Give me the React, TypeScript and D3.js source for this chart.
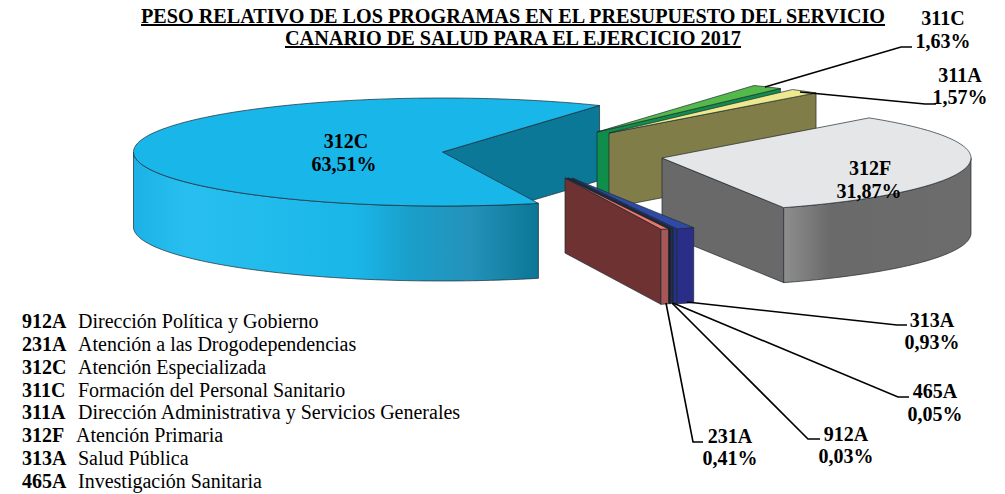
import React from "react";
import * as d3 from "d3";

const titleLines = [
  "PESO RELATIVO DE LOS PROGRAMAS EN EL PRESUPUESTO DEL SERVICIO",
  "CANARIO DE SALUD PARA EL EJERCICIO 2017",
];
const codes = ["912A", "231A", "312C", "311C", "311A", "312F", "313A", "465A"];
const names = [
  "Dirección Política y Gobierno",
  "Atención a las Drogodependencias",
  "Atención Especializada",
  "Formación del Personal Sanitario",
  "Dirección Administrativa y Servicios Generales",
  "Atención Primaria",
  "Salud Pública",
  "Investigación Sanitaria",
];
const shares = [0.03, 0.41, 63.51, 1.63, 1.57, 31.87, 0.93, 0.05];

// layout of the exploded pie
const RX = 309, RY = 54, DEPTH = 75;
const W = 1005, H = 494;
const apex: Record<string, [number, number]> = {
  "912A": [566.5, 178], "231A": [565, 178], "312C": [442.5, 152], "311C": [597, 132],
  "311A": [609, 133], "312F": [662, 158], "313A": [572, 178], "465A": [568.5, 178],
};
const topFill: Record<string, string> = {
  "912A": "#3a2a26", "231A": "#ee7468", "312C": "#19b6ea", "311C": "#53b94a",
  "311A": "#eee88f", "312F": "#e5e6e7", "313A": "#2f49a6", "465A": "#27356f",
};
const wallFill: Record<string, string> = {
  "912A": "#1a1414", "231A": "#6f3232", "312C": "#0b7898", "311C": "#0f8d4b",
  "311A": "#807d48", "312F": "#696969", "313A": "#23318c", "465A": "#2b2a55",
};
const rimStops: Record<string, [number, string][]> = {
  "912A": [[0, "#221a18"], [1, "#221a18"]],
  "231A": [[0, "#a85757"], [1, "#a85757"]],
  "312C": [[0, "#1cb2e6"], [0.13, "#28bff0"], [0.55, "#1ab6e8"], [0.68, "#1a9fcb"], [0.83, "#2492ba"], [1, "#0b7696"]],
  "311C": [[0, "#0f8d4b"], [1, "#0f8d4b"]],
  "311A": [[0, "#807d48"], [1, "#807d48"]],
  "312F": [[0, "#8e8e8e"], [0.25, "#6a6a6a"], [1, "#6c6c6c"]],
  "313A": [[0, "#2b2e88"], [1, "#2b2e88"]],
  "465A": [[0, "#27356f"], [1, "#27356f"]],
};
const paintOrder = ["312C", "311C", "311A", "312F", "313A", "465A", "912A", "231A"];

// leader lines and outside labels
const leaderCodes = ["311C", "311A", "313A", "465A", "912A", "231A"];
const leaderPaths: [number, number][][] = [
  [[765, 87], [901, 47], [912, 47]],
  [[800, 92], [925, 104], [936, 104]],
  [[687, 302], [897, 325], [907, 325]],
  [[673, 303], [898, 397], [909, 397]],
  [[672, 303], [808, 439], [820, 439]],
  [[666, 303], [693, 442], [703, 442]],
];
const leaderLabelPos: [number, number, number][] = [
  [943, 25, 48], [960, 82, 104], [932, 327, 349], [935, 398, 421], [846, 441, 463], [730, 443, 465],
];

const pct = (v: number) => v.toFixed(2).replace(".", ",") + "%";

const pieGen = d3.pie<number>().sort(null).value((d) => d)
  .startAngle((160.33 * Math.PI) / 180)
  .endAngle((160.33 * Math.PI) / 180 + 2 * Math.PI);
const arcs = pieGen(shares);

// d3.pie measures from 12 o'clock clockwise; project the circle onto the tilted plane.
const project = (a: number, c: [number, number], dz = 0): [number, number] => [
  c[0] + RX * Math.sin(a),
  c[1] - RY * Math.cos(a) + dz,
];
const line = d3.line();
const rimPts = (a0: number, a1: number, c: [number, number], dz = 0) => {
  const n = Math.max(2, Math.ceil(Math.abs(a1 - a0) / 0.02));
  return d3.range(n + 1).map((i) => project(a0 + ((a1 - a0) * i) / n, c, dz));
};

function Slice({ i }: { i: number }) {
  const code = codes[i];
  const { startAngle: a0, endAngle: a1 } = arcs[i];
  const c = apex[code];
  const down: [number, number] = [c[0], c[1] + DEPTH];
  const stroke = { stroke: "#1c2a30", strokeWidth: 0.7, strokeLinejoin: "round" as const };
  const parts: React.ReactNode[] = [];
  // end wall faces the viewer when it points to the right half of the ellipse
  if (Math.sin(a1) > 0) {
    const e = project(a1, c), ed = project(a1, c, DEPTH);
    parts.push(<path key="w1" d={line([c, e, ed, down])! + "Z"} fill={wallFill[code]} {...stroke} />);
  }
  // outer face: the portion of the rim in the front half of the ellipse
  const k0 = Math.ceil((a0 - Math.PI / 2) / Math.PI), k1 = Math.floor((a1 - Math.PI / 2) / Math.PI);
  const cuts = [a0, ...d3.range(k0, k1 + 1).map((k) => Math.PI / 2 + k * Math.PI), a1];
  for (let j = 0; j < cuts.length - 1; j++) {
    const s = cuts[j], t = cuts[j + 1];
    if (Math.cos((s + t) / 2) < 0) {
      const upper = rimPts(s, t, c);
      const lower = rimPts(t, s, c, DEPTH);
      parts.push(<path key={"r" + j} d={line([...upper, ...lower])! + "Z"} fill={`url(#rim-${code})`} {...stroke} />);
    }
  }
  parts.push(
    <path key="t" d={line([c, ...rimPts(a0, a1, c)])! + "Z"} fill={topFill[code]} {...stroke} />
  );
  return <g>{parts}</g>;
}

export default function App() {
  const serif = "'Liberation Serif', serif";
  const legendY = d3.scalePoint<string>().domain(codes).range([328, 488]);
  return (
    <svg width={W} height={H} viewBox={`0 0 ${W} ${H}`}
      style={{ position: "absolute", left: 0, top: 0, background: "#fff" }} fontFamily={serif}>
      <defs>
        {codes.map((code, i) => {
          const c = apex[code];
          const { startAngle: a0, endAngle: a1 } = arcs[i];
          // the gradient runs across the visible front rim
          const xs = d3.range(0, 41).map((k) => a0 + ((a1 - a0) * k) / 40)
            .filter((a) => Math.cos(a) < 0).map((a) => project(a, c)[0]);
          return (
            <linearGradient key={code} id={`rim-${code}`} gradientUnits="userSpaceOnUse"
              x1={d3.min(xs) ?? 0} x2={d3.max(xs) ?? 1} y1={0} y2={0}>
              {rimStops[code].map(([o, s]) => (
                <stop key={o} offset={o} stopColor={s} />
              ))}
            </linearGradient>
          );
        })}
      </defs>

      <g fontWeight="bold" fontSize={20} textAnchor="middle" textDecoration="underline">
        <text x={513} y={23} textLength={744} lengthAdjust="spacingAndGlyphs">{titleLines[0]}</text>
        <text x={513} y={45} textLength={456} lengthAdjust="spacingAndGlyphs">{titleLines[1]}</text>
      </g>

      {paintOrder.map((code) => <Slice key={code} i={codes.indexOf(code)} />)}

      <g fontWeight="bold" fontSize={20} textAnchor="middle" fill="#000">
        <text x={346} y={148}>312C</text>
        <text x={344} y={171}>{pct(shares[codes.indexOf("312C")])}</text>
        <text x={870} y={175}>312F</text>
        <text x={869} y={198}>{pct(shares[codes.indexOf("312F")])}</text>
      </g>

      {leaderCodes.map((code, i) => (
        <g key={code}>
          <path d={line(leaderPaths[i])!} fill="none" stroke="#000" strokeWidth={1.6} />
          <g fontWeight="bold" fontSize={20} textAnchor="middle">
            <text x={leaderLabelPos[i][0]} y={leaderLabelPos[i][1]}>{code}</text>
            <text x={leaderLabelPos[i][0]} y={leaderLabelPos[i][2]}>{pct(shares[codes.indexOf(code)])}</text>
          </g>
        </g>
      ))}

      <g fontSize={20} fill="#000">
        {codes.map((code, i) => (
          <g key={code}>
            <text x={22} y={legendY(code)} fontWeight="bold">{code}</text>
            <text x={code === "312F" ? 76 : 78} y={legendY(code)}>{names[i]}</text>
          </g>
        ))}
      </g>
    </svg>
  );
}
